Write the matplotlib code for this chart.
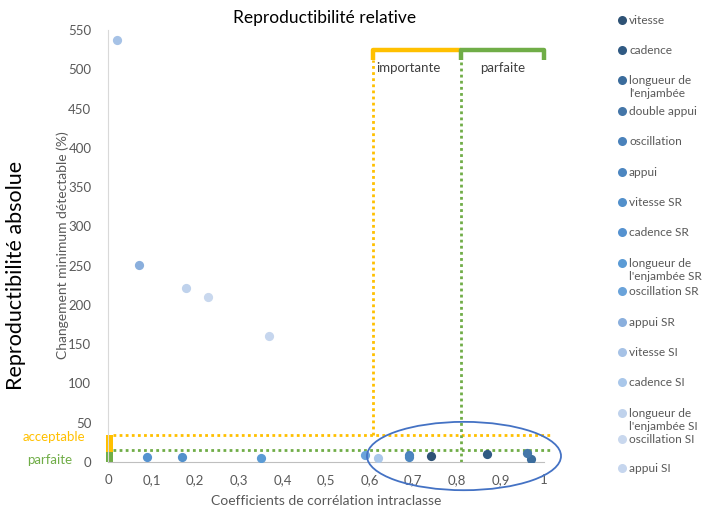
import numpy as np
import matplotlib.pyplot as plt
from matplotlib.patches import Ellipse, Rectangle
from matplotlib.ticker import FuncFormatter

plt.rcParams['font.family'] = ['Lato', 'DejaVu Sans']

# series (legend order) with their ICC and MDC (%)
labels = ['vitesse', 'cadence', "longueur de\nl'enjambée", 'double appui', 'oscillation',
          'appui', 'vitesse SR', 'cadence SR', "longueur de\nl'enjambée SR", 'oscillation SR',
          'appui SR', 'vitesse SI', 'cadence SI', "longueur de\nl'enjambée SI", 'oscillation SI',
          'appui SI']
icc = [0.74, 0.87, 0.97, 0.96, 0.69, 0.69, 0.17, 0.09, 0.35, 0.59,
       0.07, 0.02, 0.62, 0.18, 0.23, 0.37]
mdc = [8, 10, 4, 11, 9, 6, 7, 7, 5, 9,
       251, 537, 5, 221, 210, 160]
colors = ['#2e5275', '#305a83', '#3b6c9c', '#4476a8', '#4a82bb', '#4c86c0', '#5290cb',
          '#5592d0', '#5b9bd5', '#6aa3da', '#8aafdd', '#a6c2e6', '#a9c7ea', '#bfd2ec',
          '#c9d8ee', '#c6d6ee']
# legend rows (pixel y of marker)
legend_y = [20, 50, 80, 111, 141, 172, 202, 232, 263, 291, 322, 352, 382, 413, 439, 468]

fig = plt.figure(figsize=(7.04, 5.12), dpi=100)
ax = fig.add_axes([108/704, 50/512, 436/704, 432/512])

for x, y, c in zip(icc, mdc, colors):
    ax.scatter(x, y, s=44, color=c, zorder=3, linewidths=0)

ax.set_xlim(0, 1)
ax.set_ylim(0, 550)
ax.set_xticks(np.arange(0, 1.01, 0.1))
ax.set_yticks(np.arange(0, 551, 50))
ax.xaxis.set_major_formatter(FuncFormatter(lambda v, p: ('%g' % round(v, 1)).replace('.', ',')))
ax.tick_params(length=0, labelsize=9.5, labelcolor='#595959', pad=9)
ax.tick_params(axis='y', pad=12)
for s in ['top', 'right']:
    ax.spines[s].set_visible(False)
ax.spines['left'].set_color('#d9d9d9')
ax.spines['bottom'].set_color('#bfbfbf')

yel = '#ffc000'
grn = '#70ad47'
dots = (0, (1, 1.2))

# thresholds
ax.plot([0.012, 1.02], [34, 34], color=yel, lw=2, ls=dots, clip_on=False, zorder=2)
ax.plot([0.012, 1.02], [15, 15], color=grn, lw=2, ls=dots, clip_on=False, zorder=2)
ax.plot([0.608, 0.608], [34, 512], color=yel, lw=2, ls=dots, zorder=2)
ax.plot([0.81, 0.81], [0, 512], color=grn, lw=2, ls=dots, zorder=2)

ax.add_patch(Rectangle((-0.004, 13), 0.016, 21, color=yel, clip_on=False, lw=0))
ax.add_patch(Rectangle((-0.004, 0), 0.016, 13, color=grn, clip_on=False, lw=0))

# brackets
ax.plot([0.608, 0.608, 0.81], [512, 525, 525], color=yel, lw=3.2, solid_capstyle='butt', clip_on=False)
ax.plot([0.81, 0.81, 1.0, 1.0], [512, 525, 525, 512], color=grn, lw=3.2, solid_capstyle='butt', clip_on=False)
ax.text(0.69, 502, 'importante', ha='center', va='center', fontsize=9.5, color='#404040')
ax.text(0.906, 502, 'parfaite', ha='center', va='center', fontsize=9.5, color='#404040')

ax.add_patch(Ellipse((0.8165, 7.6), 0.445, 87, fill=False, edgecolor='#4472c4', lw=1.3, clip_on=False, zorder=4))

# labels
fig.text(325/704, 1 - 18/512, 'Reproductibilité relative', ha='center', va='center', fontsize=12.5)
fig.text(16/704, 1 - 275/512, 'Reproductibilité absolue', ha='center', va='center', rotation=90, fontsize=15.5)
fig.text(63/704, 1 - 245/512, 'Changement minimum détectable (%)', ha='center', va='center',
         rotation=90, fontsize=10, color='#595959')
fig.text(326/704, 1 - 501/512, 'Coefficients de corrélation intraclasse', ha='center', va='center',
         fontsize=10, color='#595959')
fig.text(54/704, 1 - 437/512, 'acceptable', ha='center', va='center', fontsize=9.5, color=yel)
fig.text(50/704, 1 - 460/512, 'parfaite', ha='center', va='center', fontsize=9.5, color=grn)

# legend
for lab, c, py in zip(labels, colors, legend_y):
    yf = 1 - py/512
    fig.lines.append(plt.Line2D([622/704], [yf], marker='o', ms=6.5, color=c, mew=0,
                                transform=fig.transFigure))
    fig.text(629/704, yf + 5/512, lab, ha='left', va='top', fontsize=8.6, color='#595959',
             linespacing=1.2)

fig.savefig('out.png', dpi=100)
